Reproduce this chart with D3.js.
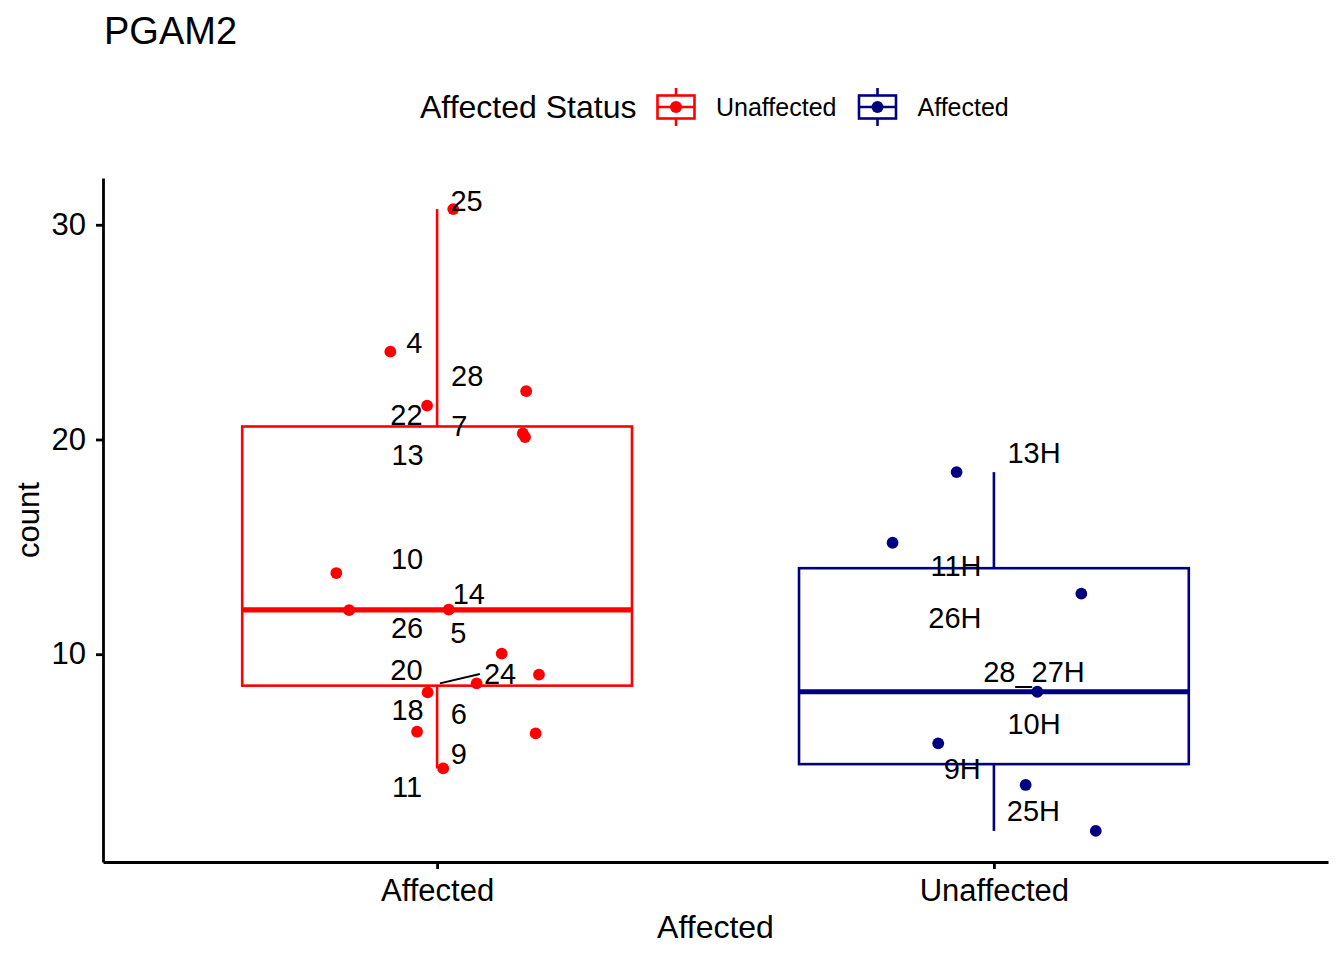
<!DOCTYPE html>
<html>
<head>
<meta charset="utf-8">
<script src="https://cdn.jsdelivr.net/npm/d3@7"></script>
<style>
  html, body { margin: 0; padding: 0; background: #ffffff; }
  svg { display: block; font-family: "Liberation Sans", Arial, Helvetica, sans-serif; }
</style>
</head>
<body>
<svg id="chart" width="1344" height="960"></svg>
<script>
// Dados
const groups = ['Affected', 'Unaffected'];
const groupColors = ['#FF0000', '#000080'];
const legendLabels = ['Unaffected', 'Affected'];
const yTicks = [10, 20, 30];

// Pontos (valor e deslocamento do jitter, em unidades de categoria)
const affectedCounts = [30.73, 24.09, 22.25, 21.58, 20.28, 20.11, 13.78, 12.05, 12.08, 10.03, 9.05, 8.64, 8.22, 6.39, 6.31, 4.68];
const affectedJitter = [0.029, -0.084, 0.160, -0.018, 0.154, 0.158, -0.181, -0.158, 0.021, 0.116, 0.183, 0.071, -0.017, -0.036, 0.177, 0.011];
const unaffectedCounts = [18.48, 15.19, 12.82, 8.25, 5.85, 3.91, 1.77];
const unaffectedJitter = [-0.067, -0.182, 0.157, 0.078, -0.100, 0.057, 0.183];

// Rótulos (posição repelida, em unidades de dados)
const affectedLabels = ['25', '4', '28', '22', '7', '13', '10', '14', '26', '5', '20', '24', '18', '6', '9', '11'];
const affectedLabelX = [0.053, -0.041, 0.054, -0.055, 0.040, -0.053, -0.054, 0.057, -0.054, 0.038, -0.055, 0.113, -0.053, 0.039, 0.039, -0.054];
const affectedLabelY = [31.15, 24.51, 22.98, 21.14, 20.65, 19.32, 14.47, 12.82, 11.22, 11.00, 9.27, 9.08, 7.41, 7.24, 5.38, 3.85];
const unaffectedLabels = ['13H', '11H', '26H', '28_27H', '10H', '9H', '25H'];
const unaffectedLabelX = [0.072, -0.068, -0.070, 0.072, 0.072, -0.057, 0.071];
const unaffectedLabelY = [19.41, 14.12, 11.72, 9.20, 6.79, 4.68, 2.73];

// Segmento do ggrepel: ponto de origem do rótulo "24"
const segmentLabels = ['24'];
const segmentFromX = [0.005];
const segmentFromY = [8.64];

const series = [
    { group: groups[0], color: groupColors[0], counts: affectedCounts, jitter: affectedJitter,
      labels: affectedLabels, labelX: affectedLabelX, labelY: affectedLabelY },
    { group: groups[1], color: groupColors[1], counts: unaffectedCounts, jitter: unaffectedJitter,
      labels: unaffectedLabels, labelX: unaffectedLabelX, labelY: unaffectedLabelY }
];

// Estatísticas do boxplot (igual ao ggplot, quantil tipo 7)
function boxStats(values) {
    const s = values.slice().sort(d3.ascending);
    const q1 = d3.quantile(s, 0.25);
    const med = d3.quantile(s, 0.5);
    const q3 = d3.quantile(s, 0.75);
    const iqr = q3 - q1;
    const lo = d3.min(s.filter(v => v >= q1 - 1.5 * iqr));
    const hi = d3.max(s.filter(v => v <= q3 + 1.5 * iqr));
    return { q1, med, q3, lo, hi };
}

const svg = d3.select('#chart');
const panel = { left: 103, right: 1328, top: 178, bottom: 862 };
const axisWidth = 2.8;
const boxLine = 2.6;

const x = d3.scalePoint()
    .domain(groups)
    .range([panel.left, panel.right])
    .padding(0.6);
const step = x.step();

const allCounts = affectedCounts.concat(unaffectedCounts);
const yMin = d3.min(allCounts);
const yMax = d3.max(allCounts);
const pad = (yMax - yMin) * 0.05;
const y = d3.scaleLinear()
    .domain([yMin - pad, yMax + pad])
    .range([panel.bottom, panel.top]);

// Título
svg.append('text')
    .attr('x', 104)
    .attr('y', 44)
    .style('font-size', '38px')
    .style('fill', '#000')
    .text('PGAM2');

// Legenda
const legend = svg.append('g').attr('class', 'legend');
legend.append('text')
    .attr('x', 420)
    .attr('y', 118)
    .style('font-size', '32px')
    .text('Affected Status');

const keyCenters = [676, 877.5];
const keyY = 107;
legendLabels.forEach((lab, i) => {
    const cx = keyCenters[i];
    const k = legend.append('g')
        .style('stroke', groupColors[i])
        .style('stroke-width', boxLine)
        .style('fill', 'none');
    k.append('line').attr('x1', cx).attr('x2', cx).attr('y1', keyY - 19).attr('y2', keyY - 11.5);
    k.append('line').attr('x1', cx).attr('x2', cx).attr('y1', keyY + 11.5).attr('y2', keyY + 19);
    k.append('rect').attr('x', cx - 18.5).attr('y', keyY - 11.5).attr('width', 37).attr('height', 23)
        .style('fill', '#fff');
    k.append('line').attr('x1', cx - 18.5).attr('x2', cx + 18.5).attr('y1', keyY).attr('y2', keyY);
    legend.append('circle')
        .attr('cx', cx).attr('cy', keyY).attr('r', 6)
        .style('fill', groupColors[i]);
    legend.append('text')
        .attr('x', cx + 40)
        .attr('y', 116)
        .style('font-size', '25px')
        .text(lab);
});

// Eixos
const yAxis = svg.append('g')
    .attr('transform', `translate(${panel.left},0)`)
    .call(d3.axisLeft(y).tickValues(yTicks).tickSize(7).tickSizeOuter(0).tickPadding(10));
const xAxis = svg.append('g')
    .attr('transform', `translate(0,${panel.bottom})`)
    .call(d3.axisBottom(x).tickSize(7).tickSizeOuter(0).tickPadding(10));

[yAxis, xAxis].forEach(a => {
    a.select('.domain').style('stroke', '#000').style('stroke-width', axisWidth);
    a.selectAll('.tick line').style('stroke', '#000').style('stroke-width', axisWidth);
    a.selectAll('.tick text')
        .style('font-size', '31px')
        .style('fill', '#000')
        .style('font-family', '"Liberation Sans", Arial, Helvetica, sans-serif');
});
yAxis.selectAll('.tick text').attr('dy', '0.31em');

// Títulos dos eixos
svg.append('text')
    .attr('x', (panel.left + panel.right) / 2)
    .attr('y', 938)
    .attr('text-anchor', 'middle')
    .style('font-size', '32px')
    .text('Affected');
svg.append('text')
    .attr('transform', `translate(39,${(panel.top + panel.bottom) / 2}) rotate(-90)`)
    .attr('text-anchor', 'middle')
    .style('font-size', '31px')
    .text('count');

// Boxplots
const plot = svg.append('g').attr('class', 'plot');
const boxW = step * 0.7;
series.forEach(s => {
    const st = boxStats(s.counts);
    const cx = x(s.group);
    const g = plot.append('g')
        .style('stroke', s.color)
        .style('fill', 'none');
    g.append('line')
        .attr('x1', cx).attr('x2', cx)
        .attr('y1', y(st.q3)).attr('y2', y(st.hi))
        .style('stroke-width', boxLine);
    g.append('line')
        .attr('x1', cx).attr('x2', cx)
        .attr('y1', y(st.q1)).attr('y2', y(st.lo))
        .style('stroke-width', boxLine);
    g.append('rect')
        .attr('x', cx - boxW / 2)
        .attr('y', y(st.q3))
        .attr('width', boxW)
        .attr('height', y(st.q1) - y(st.q3))
        .style('fill', '#fff')
        .style('stroke-width', boxLine);
    g.append('line')
        .attr('x1', cx - boxW / 2).attr('x2', cx + boxW / 2)
        .attr('y1', y(st.med)).attr('y2', y(st.med))
        .style('stroke-width', boxLine * 2);
});

// Pontos com jitter
series.forEach(s => {
    plot.selectAll(null)
        .data(s.counts)
        .enter()
        .append('circle')
        .attr('cx', (d, i) => x(s.group) + s.jitter[i] * step)
        .attr('cy', d => y(d))
        .attr('r', 5.9)
        .style('fill', s.color);
});

// Rótulos
const labelSize = 29;
const labelLayer = svg.append('g').attr('class', 'labels');
const segLayer = labelLayer.append('g');
series.forEach(s => {
    labelLayer.selectAll(null)
        .data(s.labels)
        .enter()
        .append('text')
        .attr('class', 'pt-label')
        .attr('data-label', d => d)
        .attr('x', (d, i) => x(s.group) + s.labelX[i] * step)
        .attr('y', (d, i) => y(s.labelY[i]))
        .attr('dy', '0.36em')
        .attr('text-anchor', 'middle')
        .style('font-size', labelSize + 'px')
        .style('fill', '#000')
        .text(d => d);
});

// Segmento de ligação até o rótulo
segmentLabels.forEach((lab, i) => {
    const node = labelLayer.selectAll('.pt-label').filter(function () {
        return this.getAttribute('data-label') === lab;
    }).node();
    const w = node.getComputedTextLength();
    const lx = +node.getAttribute('x');
    const ly = +node.getAttribute('y');
    segLayer.append('line')
        .attr('x1', x(groups[0]) + segmentFromX[i] * step)
        .attr('y1', y(segmentFromY[i]))
        .attr('x2', lx - w / 2 - 4)
        .attr('y2', ly)
        .style('stroke', '#000')
        .style('stroke-width', 2);
});
</script>
</body>
</html>
